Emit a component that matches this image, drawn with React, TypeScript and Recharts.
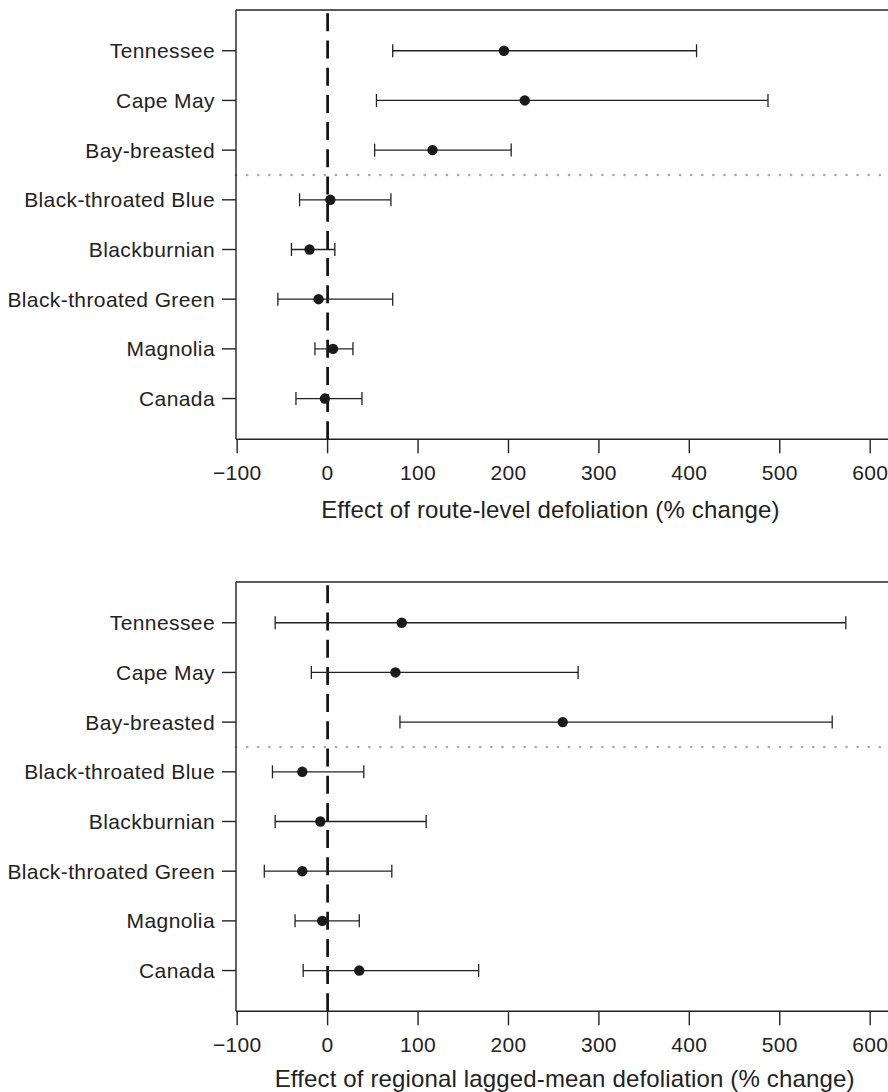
import {
  ScatterChart,
  Scatter,
  XAxis,
  YAxis,
  ErrorBar,
  ReferenceLine,
} from "recharts";

// species, top to bottom
const species = [
  "Tennessee",
  "Cape May",
  "Bay-breasted",
  "Black-throated Blue",
  "Blackburnian",
  "Black-throated Green",
  "Magnolia",
  "Canada",
];

// route-level defoliation effect (% change)
const routeEst = [195, 218, 116, 3, -20, -10, 6, -3];
const routeLow = [72, 54, 52, -31, -40, -55, -14, -35];
const routeHigh = [408, 487, 203, 70, 8, 72, 28, 38];

// regional lagged-mean defoliation effect (% change)
const regionalEst = [82, 75, 260, -28, -8, -28, -6, 35];
const regionalLow = [-58, -18, 80, -61, -58, -70, -36, -27];
const regionalHigh = [573, 277, 558, 40, 109, 71, 35, 167];

const xTicks = [-100, 0, 100, 200, 300, 400, 500, 600];
const yTicks = [1, 2, 3, 4, 5, 6, 7, 8];

const FONT = "'Liberation Sans', Arial, Helvetica, sans-serif";
const INK = "#222";

function rows(est: number[], low: number[], high: number[]) {
  return species.map((name, i) => ({
    name,
    pos: i + 1,
    est: est[i],
    err: [est[i] - low[i], high[i] - est[i]],
  }));
}

const fmtX = (v: number) => (v < 0 ? `\u2212${Math.abs(v)}` : `${v}`);
const fmtY = (v: number) => species[v - 1] ?? "";

const Dot = (props: any) => (
  <circle cx={props.cx} cy={props.cy} r={5.2} fill="#1a1a1a" />
);

const PLOT_H = 429.3;

function Panel({
  data,
  title,
  titleX,
  titleY,
  height,
}: {
  data: ReturnType<typeof rows>;
  title: string;
  titleX: number;
  titleY: number;
  height: number;
}) {
  return (
    <ScatterChart
      width={888}
      height={height}
      margin={{ top: 10, right: 0, bottom: 0, left: 0 }}
    >
      <XAxis
        type="number"
        dataKey="est"
        domain={[-101.3, 619.7]}
        ticks={xTicks}
        interval={0}
        allowDataOverflow
        tickFormatter={fmtX}
        height={height - 10 - PLOT_H}
        tickSize={14}
        tickMargin={12}
        axisLine={{ stroke: INK, strokeWidth: 1.4 }}
        tickLine={{ stroke: INK, strokeWidth: 1.4 }}
        tick={{ fill: INK, fontSize: 21, fontFamily: FONT, letterSpacing: 0.3 }}
        label={() => (
          <text
            x={titleX}
            y={titleY}
            textAnchor="middle"
            fill={INK}
            fontSize={24}
            fontFamily={FONT}
            letterSpacing={0.15}
          >
            {title}
          </text>
        )}
      />
      <YAxis
        type="number"
        dataKey="pos"
        domain={[0.18, 8.82]}
        reversed
        ticks={yTicks}
        interval={0}
        allowDataOverflow
        tickFormatter={fmtY}
        width={236}
        tickSize={14}
        tickMargin={7}
        axisLine={{ stroke: INK, strokeWidth: 1.4 }}
        tickLine={{ stroke: INK, strokeWidth: 1.4 }}
        tick={{ fill: INK, fontSize: 21, fontFamily: FONT, letterSpacing: 0.4 }}
      />
      <ReferenceLine y={0.18} stroke={INK} strokeWidth={1.4} />
      <ReferenceLine
        y={3.5}
        stroke="#aaa"
        strokeWidth={2.6}
        strokeDasharray="0.1 11"
        strokeLinecap="round"
      />
      <ReferenceLine
        x={0}
        stroke="#111"
        strokeWidth={2.7}
        strokeDasharray="18 9.2"
      />
      <Scatter data={data} shape={Dot} isAnimationActive={false}>
        <ErrorBar
          dataKey="err"
          direction="x"
          width={6.5}
          stroke={INK}
          strokeWidth={1.3}
          isAnimationActive={false}
        />
      </Scatter>
    </ScatterChart>
  );
}

export default function App() {
  return (
    <div
      style={{
        position: "absolute",
        left: 0,
        top: 0,
        width: 888,
        height: 1092,
        overflow: "hidden",
        background: "#fff",
      }}
    >
      <div style={{ position: "absolute", left: 0, top: 0 }}>
        <Panel
          data={rows(routeEst, routeLow, routeHigh)}
          title="Effect of route-level defoliation (% change)"
          titleX={550.4}
          titleY={518}
          height={546}
        />
      </div>
      <div style={{ position: "absolute", left: 0, top: 571.7 }}>
        <Panel
          data={rows(regionalEst, regionalLow, regionalHigh)}
          title="Effect of regional lagged-mean defoliation (% change)"
          titleX={564.6}
          titleY={515}
          height={546}
        />
      </div>
    </div>
  );
}
